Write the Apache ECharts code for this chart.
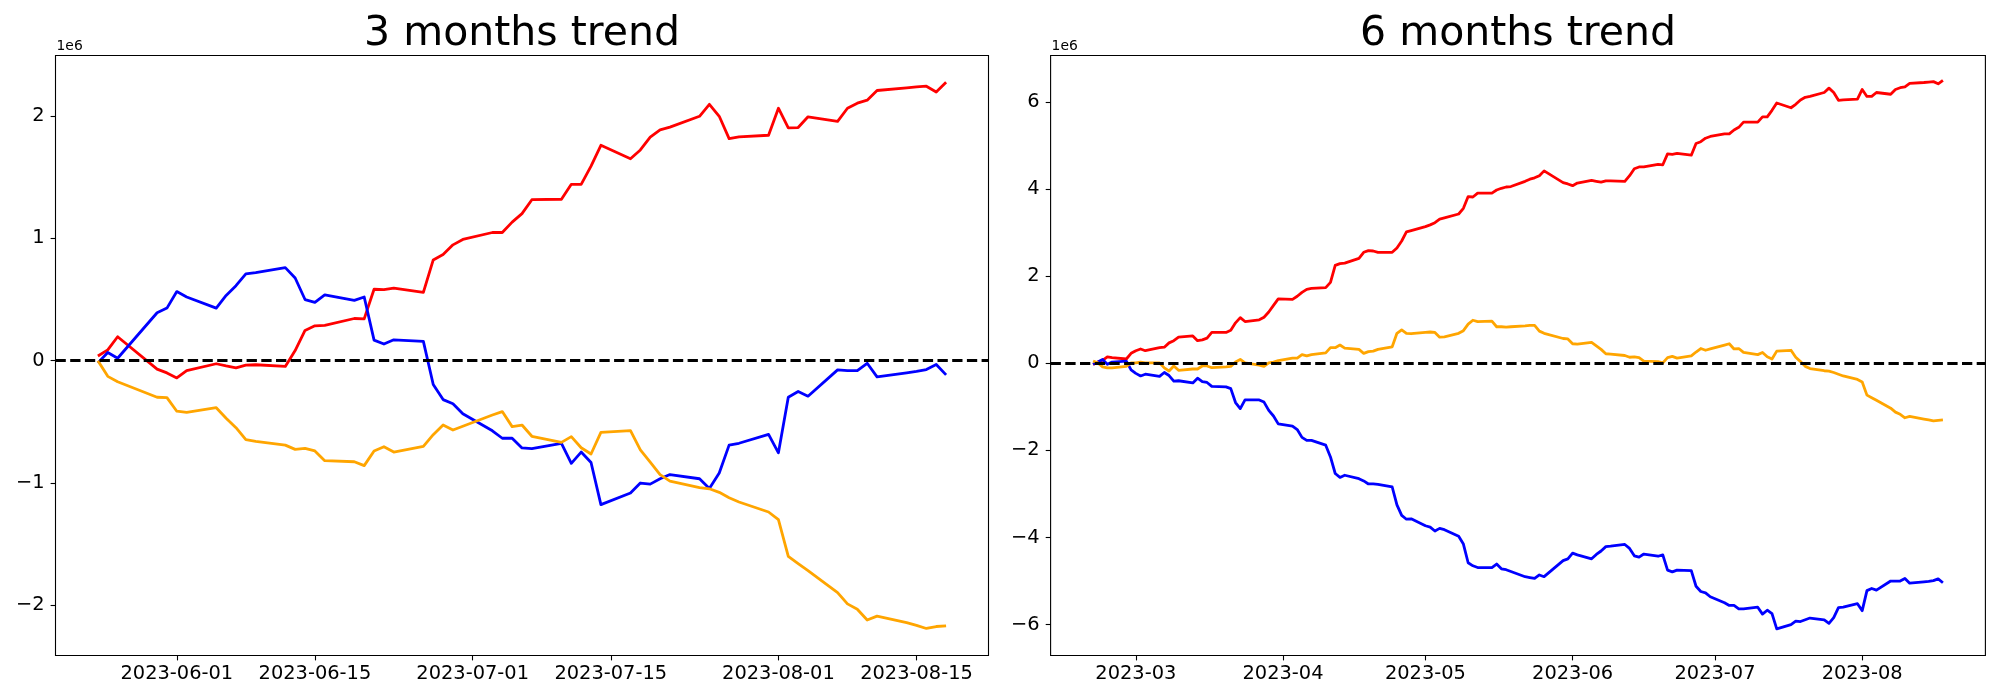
<!DOCTYPE html>
<html>
<head>
<meta charset="utf-8">
<script src="https://cdn.jsdelivr.net/npm/echarts@6/dist/echarts.min.js"></script>
<style>
html,body{margin:0;padding:0;background:#fff;}
#chart{width:2000px;height:700px;}
</style>
</head>
<body>
<div id="chart"></div>
<script>
// ---------- 3 months data (values in units of 1e6) ----------
const dates3m = ['2023-05-24','2023-05-25','2023-05-26','2023-05-30','2023-05-31',
'2023-06-01','2023-06-02','2023-06-05','2023-06-06','2023-06-07','2023-06-08','2023-06-09',
'2023-06-12','2023-06-13','2023-06-14','2023-06-15','2023-06-16','2023-06-19','2023-06-20',
'2023-06-21','2023-06-22','2023-06-23','2023-06-26','2023-06-27','2023-06-28','2023-06-29',
'2023-06-30','2023-07-03','2023-07-04','2023-07-05','2023-07-06','2023-07-07','2023-07-10',
'2023-07-11','2023-07-12','2023-07-13','2023-07-14','2023-07-17','2023-07-18','2023-07-19',
'2023-07-20','2023-07-21','2023-07-24','2023-07-25','2023-07-26','2023-07-27','2023-07-28',
'2023-07-31','2023-08-01','2023-08-02','2023-08-03','2023-08-04','2023-08-07','2023-08-08',
'2023-08-09','2023-08-10','2023-08-11','2023-08-14','2023-08-15','2023-08-16','2023-08-17','2023-08-18'];

const red3m = [0.038,0.089,0.196,-0.069,-0.100,-0.141,-0.081,-0.025,-0.043,-0.059,-0.037,-0.033,
-0.047,0.083,0.247,0.285,0.289,0.345,0.342,0.584,0.581,0.594,0.559,0.824,0.868,0.947,0.991,
1.048,1.048,1.133,1.202,1.316,1.320,1.442,1.442,1.590,1.761,1.651,1.723,1.827,1.887,1.909,
1.998,2.096,1.998,1.815,1.830,1.843,2.064,1.903,1.906,1.994,1.957,2.064,2.105,2.130,2.209,
2.230,2.238,2.244,2.197,2.276];

const blue3m = [-0.018,0.067,0.020,0.392,0.430,0.565,0.521,0.430,0.534,0.613,0.710,0.720,
0.761,0.676,0.500,0.477,0.538,0.493,0.521,0.168,0.136,0.171,0.158,-0.195,-0.318,-0.352,-0.434,
-0.573,-0.634,-0.634,-0.713,-0.719,-0.675,-0.839,-0.747,-0.832,-1.177,-1.082,-1.000,-1.009,
-0.965,-0.931,-0.965,-1.044,-0.918,-0.690,-0.675,-0.602,-0.753,-0.299,-0.252,-0.290,-0.075,
-0.081,-0.081,-0.021,-0.132,-0.100,-0.088,-0.072,-0.031,-0.116];

const orange3m = [0.0,-0.128,-0.172,-0.299,-0.302,-0.413,-0.422,-0.384,-0.470,-0.548,-0.646,-0.659,
-0.690,-0.725,-0.716,-0.738,-0.817,-0.826,-0.858,-0.738,-0.703,-0.747,-0.700,-0.605,-0.526,-0.567,
-0.536,-0.444,-0.416,-0.539,-0.526,-0.618,-0.668,-0.621,-0.712,-0.763,-0.586,-0.571,-0.729,-0.829,
-0.931,-0.984,-1.038,-1.047,-1.076,-1.120,-1.155,-1.237,-1.300,-1.600,-1.659,-1.716,-1.896,-1.988,
-2.032,-2.120,-2.088,-2.142,-2.164,-2.189,-2.173,-2.167];

const xTicks3m = ['2023-06-01','2023-06-15','2023-07-01','2023-07-15','2023-08-01','2023-08-15'];
const yTicks3m = [-2,-1,0,1,2];

// ---------- 6 months data (values in units of 1e6) ----------
const dates6m = ['2023-02-20','2023-02-21','2023-02-22','2023-02-23','2023-02-24','2023-02-27','2023-02-28',
'2023-03-01','2023-03-02','2023-03-03','2023-03-06','2023-03-07','2023-03-08','2023-03-09','2023-03-10',
'2023-03-13','2023-03-14','2023-03-15','2023-03-16','2023-03-17','2023-03-20','2023-03-21','2023-03-22',
'2023-03-23','2023-03-24','2023-03-27','2023-03-28','2023-03-29','2023-03-30','2023-03-31',
'2023-04-03','2023-04-04','2023-04-05','2023-04-06','2023-04-07','2023-04-10','2023-04-11','2023-04-12',
'2023-04-13','2023-04-14','2023-04-17','2023-04-18','2023-04-19','2023-04-20','2023-04-21','2023-04-24',
'2023-04-25','2023-04-26','2023-04-27','2023-04-28',
'2023-05-01','2023-05-02','2023-05-03','2023-05-04','2023-05-05','2023-05-08','2023-05-09','2023-05-10',
'2023-05-11','2023-05-12','2023-05-15','2023-05-16','2023-05-17','2023-05-18','2023-05-19','2023-05-22','2023-05-23',
'2023-05-24','2023-05-25','2023-05-26','2023-05-30','2023-05-31',
'2023-06-01','2023-06-02','2023-06-05','2023-06-06','2023-06-07','2023-06-08','2023-06-09',
'2023-06-12','2023-06-13','2023-06-14','2023-06-15','2023-06-16','2023-06-19','2023-06-20',
'2023-06-21','2023-06-22','2023-06-23','2023-06-26','2023-06-27','2023-06-28','2023-06-29',
'2023-06-30','2023-07-03','2023-07-04','2023-07-05','2023-07-06','2023-07-07','2023-07-10',
'2023-07-11','2023-07-12','2023-07-13','2023-07-14','2023-07-17','2023-07-18','2023-07-19',
'2023-07-20','2023-07-21','2023-07-24','2023-07-25','2023-07-26','2023-07-27','2023-07-28',
'2023-07-31','2023-08-01','2023-08-02','2023-08-03','2023-08-04','2023-08-07','2023-08-08',
'2023-08-09','2023-08-10','2023-08-11','2023-08-14','2023-08-15','2023-08-16','2023-08-17','2023-08-18'];

const red6m = [-0.03,0.03,0.07,0.15,0.13,0.10,0.23,
0.29,0.33,0.29,0.36,0.37,0.47,0.52,0.60,0.63,0.52,0.54,0.58,0.71,0.71,0.76,0.93,1.05,0.96,1.00,1.06,1.18,1.33,1.48,
1.47,1.54,1.63,1.70,1.72,1.74,1.86,2.25,2.29,2.30,2.41,2.55,2.59,2.58,2.55,2.55,2.65,2.81,3.02,3.05,
3.14,3.18,3.23,3.31,3.34,3.43,3.56,3.83,3.82,3.91,3.91,3.98,4.02,4.05,4.06,4.18,4.23,
4.26,4.31,4.42,4.15,4.12,4.08,4.14,4.20,4.18,4.16,4.19,4.19,4.18,4.31,4.47,4.51,4.51,4.57,4.56,4.81,
4.80,4.82,4.78,5.05,5.09,5.17,5.21,5.27,5.27,5.36,5.42,5.54,5.54,5.66,5.66,5.81,5.98,5.87,5.95,6.05,
6.11,6.13,6.22,6.32,6.22,6.04,6.05,6.07,6.29,6.13,6.13,6.22,6.18,6.29,6.33,6.35,6.43,6.45,6.46,6.47,6.42,6.50];

const blue6m = [-0.02,0.03,0.09,-0.02,0.03,0.05,-0.15,
-0.23,-0.29,-0.25,-0.30,-0.21,-0.28,-0.41,-0.40,-0.45,-0.34,-0.42,-0.44,-0.53,-0.54,-0.58,-0.90,-1.04,-0.84,-0.84,-0.89,-1.08,-1.21,-1.39,
-1.44,-1.52,-1.70,-1.77,-1.77,-1.88,-2.15,-2.53,-2.62,-2.57,-2.65,-2.70,-2.77,-2.77,-2.78,-2.84,-3.25,-3.49,-3.58,-3.57,
-3.73,-3.76,-3.85,-3.79,-3.82,-3.97,-4.15,-4.58,-4.65,-4.69,-4.69,-4.61,-4.72,-4.74,-4.78,-4.90,-4.92,
-4.94,-4.86,-4.90,-4.53,-4.49,-4.36,-4.40,-4.49,-4.39,-4.31,-4.21,-4.20,-4.16,-4.25,-4.42,-4.45,-4.38,-4.43,-4.40,-4.75,
-4.79,-4.75,-4.76,-5.12,-5.24,-5.27,-5.36,-5.50,-5.56,-5.56,-5.64,-5.64,-5.60,-5.76,-5.67,-5.75,-6.10,-6.00,-5.92,-5.93,
-5.89,-5.85,-5.89,-5.97,-5.84,-5.61,-5.60,-5.52,-5.68,-5.22,-5.17,-5.21,-5.00,-5.00,-5.00,-4.94,-5.05,-5.02,-5.01,-4.99,-4.95,-5.04];

const orange6m = [0.055,0.01,-0.08,-0.105,-0.105,-0.07,0.01,
0.01,0.03,0.01,0.01,-0.105,-0.175,-0.06,-0.16,-0.13,-0.13,-0.06,-0.06,-0.10,-0.08,-0.07,0.03,0.09,0.01,-0.04,-0.07,0.01,0.03,0.065,
0.12,0.12,0.20,0.17,0.20,0.24,0.36,0.36,0.42,0.35,0.32,0.23,0.27,0.28,0.32,0.38,0.69,0.77,0.69,0.68,
0.71,0.72,0.71,0.60,0.61,0.69,0.75,0.90,0.99,0.96,0.97,0.84,0.84,0.83,0.84,0.86,0.87,
0.87,0.74,0.69,0.57,0.56,0.45,0.44,0.48,0.40,0.32,0.22,0.21,0.18,0.14,0.15,0.13,0.05,0.04,0.01,0.13,
0.16,0.12,0.17,0.26,0.34,0.30,0.33,0.42,0.45,0.33,0.34,0.25,0.20,0.25,0.15,0.10,0.28,0.30,0.14,0.04,
-0.07,-0.12,-0.17,-0.18,-0.21,-0.25,-0.29,-0.37,-0.43,-0.73,-0.79,-0.85,-1.03,-1.12,-1.17,-1.25,-1.22,-1.28,-1.30,-1.32,-1.31,-1.30];

const xTicks6m = ['2023-03-01','2023-04-01','2023-05-01','2023-06-01','2023-07-01','2023-08-01'];
const yTicks6m = [-6,-4,-2,0,2,4,6];

const titles = ['3 months trend','6 months trend'];
const colors = {red:'#ff0000', blue:'#0000ff', orange:'#ffa500'};

// ---------- helpers ----------
const DAY = 86400000;
const ts = s => Date.parse(s + 'T00:00:00Z');
const pairs = (dates, vals) => dates.map((d, i) => [ts(d), vals[i]]);
const FONT = '"DejaVu Sans", sans-serif';
const yFmt = v => (v < 0 ? '\u2212' + Math.abs(v) : String(v));

const chart = echarts.init(document.getElementById('chart'), null, {renderer: 'canvas'});

function xAxisCfg(gi, dates, ticks, pad, fmtLen) {
  const t = ticks.map(ts);
  return {
    type: 'value', gridIndex: gi,
    min: ts(dates[0]) - pad * DAY, max: ts(dates[dates.length - 1]) + pad * DAY,
    axisLine: {show: false, onZero: false},
    splitLine: {show: false},
    axisTick: {show: true, inside: false, length: 4.9, lineStyle: {color: '#000', width: 1.1}, customValues: t},
    axisLabel: {show: true, customValues: t, margin: 9, color: '#000', fontFamily: FONT, fontSize: 19.4,
      formatter: v => new Date(v).toISOString().slice(0, fmtLen)}
  };
}
function yAxisCfg(gi, min, max, ticks) {
  return {
    type: 'value', gridIndex: gi, min: min, max: max,
    axisLine: {show: false, onZero: false},
    splitLine: {show: false},
    axisTick: {show: true, inside: false, length: 4.9, lineStyle: {color: '#000', width: 1.1}, customValues: ticks},
    axisLabel: {show: true, customValues: ticks, margin: 11, color: '#000', fontFamily: FONT, fontSize: 19.4, formatter: yFmt}
  };
}
function lineSeries(gi, dates, vals, color, withZero) {
  const s = {
    type: 'line', xAxisIndex: gi, yAxisIndex: gi, data: pairs(dates, vals),
    showSymbol: false, symbol: 'none', silent: true,
    lineStyle: {color: color, width: 2.8, cap: 'butt', join: 'round'},
    itemStyle: {color: color}
  };
  if (withZero) {
    s.markLine = {
      silent: true, symbol: ['none', 'none'], label: {show: false},
      lineStyle: {color: '#000', type: [10.3, 4.4], width: 2.8},
      data: [{yAxis: 0}]
    };
  }
  return s;
}

const grids = [
  {left: 55.5, top: 55.5, width: 933, height: 600},
  {left: 1050.6, top: 55.5, width: 934.8, height: 600}
];

const option = {
  animation: false,
  backgroundColor: '#fff',
  grid: grids.map(g => Object.assign({show: true, borderColor: '#000', borderWidth: 1.1, backgroundColor: 'transparent', containLabel: false}, g)),
  xAxis: [xAxisCfg(0, dates3m, xTicks3m, 4.3, 10), xAxisCfg(1, dates6m, xTicks6m, 8.95, 7)],
  yAxis: [yAxisCfg(0, -2.41, 2.495, yTicks3m), yAxisCfg(1, -6.71, 7.07, yTicks6m)],
  series: [
    lineSeries(0, dates3m, red3m, colors.red, false),
    lineSeries(0, dates3m, blue3m, colors.blue, false),
    lineSeries(0, dates3m, orange3m, colors.orange, true),
    lineSeries(1, dates6m, red6m, colors.red, false),
    lineSeries(1, dates6m, blue6m, colors.blue, false),
    lineSeries(1, dates6m, orange6m, colors.orange, true)
  ],
  graphic: [
    {type: 'text', x: grids[0].left + grids[0].width / 2, y: 34.3, silent: true,
      style: {text: titles[0], font: '41px ' + FONT, fill: '#000', align: 'center', verticalAlign: 'middle'}},
    {type: 'text', x: grids[1].left + grids[1].width / 2, y: 34.3, silent: true,
      style: {text: titles[1], font: '41px ' + FONT, fill: '#000', align: 'center', verticalAlign: 'middle'}},
    {type: 'text', x: grids[0].left + 1, y: 46.4, silent: true,
      style: {text: '1e6', font: '13.9px ' + FONT, fill: '#000', align: 'left', verticalAlign: 'middle'}},
    {type: 'text', x: grids[1].left + 1, y: 46.4, silent: true,
      style: {text: '1e6', font: '13.9px ' + FONT, fill: '#000', align: 'left', verticalAlign: 'middle'}}
  ]
};
chart.setOption(option);
</script>
</body>
</html>
